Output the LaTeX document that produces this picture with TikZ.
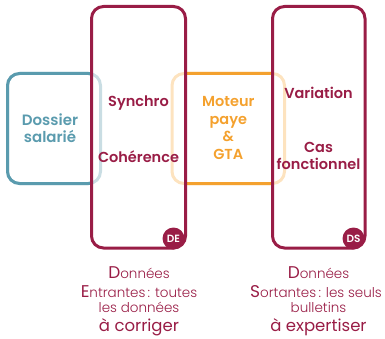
\documentclass[tikz,border=0pt]{standalone}
\usepackage{fontspec}
\setmainfont{Poppins}[BoldFont={Poppins SemiBold}]
\newfontfamily\lightfont{Poppins Light}
\usepackage{xcolor}
\usetikzlibrary{positioning}
\definecolor{crimson}{HTML}{991D46}
\definecolor{tealblue}{HTML}{5A9BAE}
\definecolor{tealpale}{HTML}{C9DDE3}
\definecolor{orangepaye}{HTML}{F4A12E}
\definecolor{orangepale}{HTML}{FDE3BF}
\tikzset{
    frame-box/.style = {rectangle, rounded corners=12pt, line width=3pt, inner sep=0pt, outer sep=0pt},
    frame-label/.style = {text=crimson, font=\bfseries\fontsize{14.5}{17.6}\selectfont, align=center},
    corner-tag/.style = {circle, fill=crimson, text=white, font=\bfseries\fontsize{10.5}{10}\selectfont, minimum size=22pt, inner sep=0pt},
    caption-line/.style = {text=crimson, font=\lightfont\fontsize{13.5}{14}\selectfont, anchor=base},
}
\newcommand{\initcap}[1]{{\normalfont\fontsize{17}{17}\selectfont #1}}

\begin{document}
\begin{tikzpicture}[x=1pt, y=-1pt]
\useasboundingbox (0,0) rectangle (385,339);
% side boxes, faded where they pass under the tall frames
\node[frame-box, draw=tealpale, minimum width=93pt, minimum height=110pt] (dossier-box) at (54,128.5) {};
\begin{scope}
    \clip (0,0) rectangle (91.5,339);
    \draw[tealblue, line width=3pt, rounded corners=12pt] (dossier-box.north west) rectangle (dossier-box.south east);
\end{scope}
\node[frame-box, draw=orangepale, minimum width=112.5pt, minimum height=110pt] (moteur-box) at (228.25,128.5) {};
\begin{scope}
    \clip (185.5,0) rectangle (272.5,339);
    \draw[orangepaye, line width=3pt, rounded corners=12pt] (moteur-box.north west) rectangle (moteur-box.south east);
\end{scope}
% tall frames
\node[frame-box, draw=crimson, minimum width=94pt, minimum height=241.5pt] (de-box) at (138.5,127.25) {};
\node[frame-box, draw=crimson, minimum width=92.5pt, minimum height=241.5pt] (ds-box) at (318.75,127.25) {};
\node[corner-tag] (de-tag) at (173.5,238.5) {DE};
\node[corner-tag] (ds-tag) at (353.5,238.5) {DS};
% labels
\node[frame-label, text=tealblue, font=\bfseries\fontsize{15}{17.3}\selectfont] (dossier-label) at (50,128.5) {Dossier\\salarié};
\node[frame-label] (synchro-label) at (138.5,103) {Synchro};
\node[frame-label] (coherence-label) at (138.5,157) {Cohérence};
\node[frame-label, text=orangepaye] (moteur-label) at (228.3,128) {Moteur\\paye\\\&\\GTA};
\node[frame-label] (variation-label) at (318.5,92.5) {Variation};
\node[frame-label] (cas-label) at (318.5,156) {Cas\\fonctionnel};
% captions
\node[caption-line] (de-caption-1) at (139,278.3) {\initcap{D}onnées};
\node[caption-line] (de-caption-2) at (139,297.7) {\initcap{E}ntrantes\,: toutes};
\node[caption-line] (de-caption-3) at (139,312.7) {les données};
\node[caption-line, font=\fontsize{16.5}{16}\selectfont] (de-caption-4) at (139,331) {à corriger};
\node[caption-line] (ds-caption-1) at (318.5,278.3) {\initcap{D}onnées};
\node[caption-line] (ds-caption-2) at (316,297.7) {\initcap{S}ortantes\,: les seuls};
\node[caption-line] (ds-caption-3) at (318.5,312.7) {bulletins};
\node[caption-line, font=\fontsize{16.5}{16}\selectfont] (ds-caption-4) at (318.5,331) {à expertiser};
\end{tikzpicture}
\end{document}
